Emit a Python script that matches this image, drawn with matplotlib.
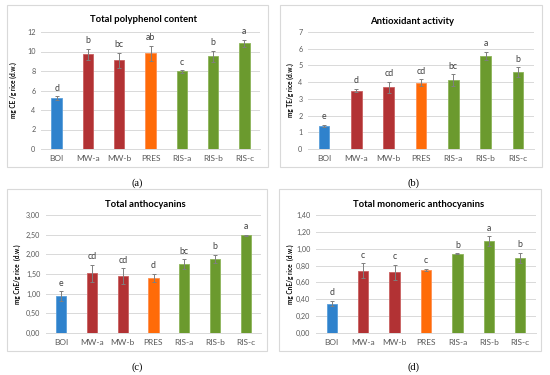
import matplotlib
matplotlib.use("Agg")
import matplotlib.pyplot as plt
from matplotlib.patches import Rectangle
from matplotlib.ticker import FuncFormatter

plt.rcParams["font.family"] = ["Lato", "DejaVu Sans"]

categories = ["BOI", "MW-a", "MW-b", "PRES", "RIS-a", "RIS-b", "RIS-c"]

tpc_values = [5.2, 9.7, 9.1, 9.8, 7.95, 9.5, 10.85]
tpc_errors = [0.2, 0.6, 0.75, 0.8, 0.15, 0.6, 0.35]
tpc_letters = ["d", "b", "bc", "ab", "c", "b", "a"]

aox_values = [1.38, 3.5, 3.68, 3.97, 4.12, 5.58, 4.6]
aox_errors = [0.07, 0.1, 0.35, 0.2, 0.35, 0.25, 0.3]
aox_letters = ["e", "d", "cd", "cd", "bc", "a", "b"]

tac_values = [0.94, 1.52, 1.45, 1.40, 1.75, 1.89, 2.48]
tac_errors = [0.12, 0.22, 0.2, 0.1, 0.12, 0.1, 0.02]
tac_letters = ["e", "cd", "cd", "d", "bc", "b", "a"]

tma_values = [0.35, 0.74, 0.72, 0.75, 0.94, 1.09, 0.89]
tma_errors = [0.03, 0.09, 0.09, 0.01, 0.005, 0.06, 0.06]
tma_letters = ["d", "c", "c", "c", "b", "a", "b"]

bar_colors = ["#2F82CC", "#B23234", "#B23234", "#FF6B08", "#6B9A2E", "#6B9A2E", "#6B9A2E"]
edge_colors = ["#5A9FDB", "#C96060", "#C96060", "#FF9050", "#8DB55A", "#8DB55A", "#8DB55A"]

W, H = 550, 375
fig = plt.figure(figsize=(5.5, 3.75), dpi=100)
fig.patch.set_facecolor("white")

def fx(x):
    return x / W

def fy(y):
    return 1 - y / H

panels = [
    dict(vals=tpc_values, errs=tpc_errors, lets=tpc_letters, title="Total polyphenol content",
         ylabel="mg CE /g rice (d.w.)", ymax=12, step=2, comma=False,
         plot=(41, 32, 260, 149), box=(7, 5, 268, 167), title_xy=(143, 19),
         ylab_x=13, cap="(a)", cap_xy=(137, 183)),
    dict(vals=aox_values, errs=aox_errors, lets=aox_letters, title="Antioxidant activity",
         ylabel="mg TE/g rice (d.w.)", ymax=7, step=1, comma=False,
         plot=(308, 32, 534, 149), box=(280, 5, 542, 167), title_xy=(412, 21),
         ylab_x=290, cap="(b)", cap_xy=(414, 183)),
    dict(vals=tac_values, errs=tac_errors, lets=tac_letters, title="Total anthocyanins",
         ylabel="mg CnE/g rice  (d.w.)", ymax=3.0, step=0.5, comma=True,
         plot=(46, 215, 261, 333), box=(7, 189, 267, 351), title_xy=(145, 204),
         ylab_x=17, cap="(c)", cap_xy=(137, 367)),
    dict(vals=tma_values, errs=tma_errors, lets=tma_letters, title="Total monomeric anthocyanins",
         ylabel="mg CnE/g rice  (d.w.)", ymax=1.4, step=0.2, comma=True,
         plot=(316, 215, 536, 333), box=(279, 189, 541, 351), title_xy=(419, 204),
         ylab_x=290, cap="(d)", cap_xy=(414, 367)),
]

for p in panels:
    x0, y0, x1, y1 = p["box"]
    fig.patches.append(Rectangle((fx(x0), fy(y1)), fx(x1) - fx(x0), fy(y0) - fy(y1),
                                 transform=fig.transFigure, facecolor="none",
                                 edgecolor="#D9D9D9", linewidth=0.8, zorder=-1))
    l, t, r, b = p["plot"]
    ax = fig.add_axes([fx(l), fy(b), fx(r) - fx(l), fy(t) - fy(b)], zorder=2)
    ax.set_facecolor("none")
    xs = list(range(len(categories)))
    ax.bar(xs, p["vals"], width=0.33, color=bar_colors, edgecolor=edge_colors,
           linewidth=0.6, zorder=3)
    ax.errorbar(xs, p["vals"], yerr=p["errs"], fmt="none", ecolor="#7F7F7F",
                elinewidth=0.7, capsize=1.6, capthick=0.7, zorder=4)
    ymax = p["ymax"]
    for x, v, e, lt in zip(xs, p["vals"], p["errs"], p["lets"]):
        ax.text(x, v + e + ymax * 0.03, lt, ha="center", va="bottom",
                fontsize=6.3, color="#404040", zorder=5)
    ax.set_xlim(-0.5, len(categories) - 0.5)
    ax.set_ylim(0, ymax)
    n = int(round(ymax / p["step"]))
    ticks = [i * p["step"] for i in range(n + 1)]
    ax.set_yticks(ticks)
    if p["comma"]:
        ax.yaxis.set_major_formatter(FuncFormatter(lambda v, pos: f"{v:.2f}".replace(".", ",")))
    else:
        ax.yaxis.set_major_formatter(FuncFormatter(lambda v, pos: f"{v:g}"))
    ax.set_xticks(xs)
    ax.set_xticklabels(categories)
    ax.grid(axis="y", color="#D9D9D9", linewidth=0.7, zorder=0)
    ax.set_axisbelow(True)
    for s in ["top", "right", "left"]:
        ax.spines[s].set_visible(False)
    ax.spines["bottom"].set_color("#D9D9D9")
    ax.spines["bottom"].set_linewidth(0.7)
    ax.tick_params(axis="both", length=0, colors="#595959")
    ax.tick_params(axis="y", labelsize=5.2, pad=4)
    ax.tick_params(axis="x", labelsize=6, pad=4)
    fig.text(fx(p["title_xy"][0]), fy(p["title_xy"][1]), p["title"], ha="center", va="center",
             fontsize=6.8, fontweight="bold", color="#000000")
    fig.text(fx(p["ylab_x"]), fy((t + b) / 2), p["ylabel"], rotation=90, ha="center",
             va="center", fontsize=4.7, fontweight="bold", color="#000000")
    fig.text(fx(p["cap_xy"][0]), fy(p["cap_xy"][1]), p["cap"], ha="center", va="center",
             fontsize=7.5, family="Liberation Serif", color="#000000")

fig.savefig("out.png", dpi=100, facecolor="white")
